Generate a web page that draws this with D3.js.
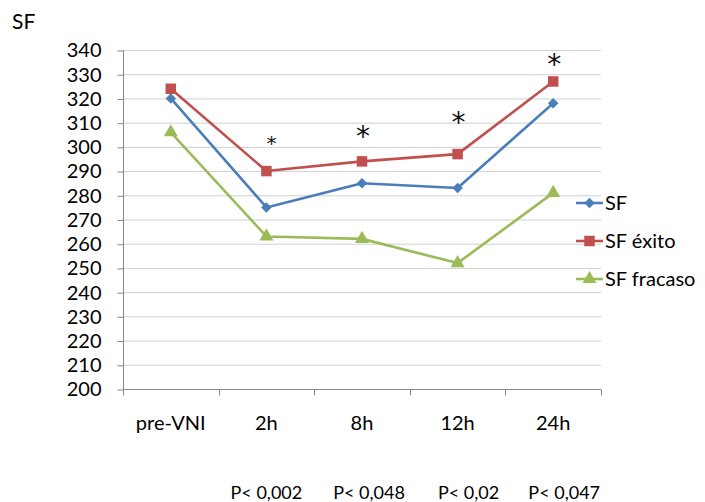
<!DOCTYPE html>
<html>
<head>
<meta charset="utf-8">
<script src="https://cdn.jsdelivr.net/npm/d3@7"></script>
<style>
  html, body { margin: 0; padding: 0; background: #fff; }
  svg { display: block; font-family: Lato, "Open Sans", sans-serif; }
</style>
</head>
<body>
<svg id="chart" width="705" height="502"></svg>
<script>
// Time points and SF values per group
const categories = ["pre-VNI", "2h", "8h", "12h", "24h"];
const sfTotal   = [320, 275, 285, 283, 318];
const sfExito   = [324, 290, 294, 297, 327];
const sfFracaso = [306, 263, 262, 252, 281];
const yTicks = [200, 210, 220, 230, 240, 250, 260, 270, 280, 290, 300, 310, 320, 330, 340];
// Significance marks: level (in SF units) where each asterisk sits
const starCats   = ["2h", "8h", "12h", "24h"];
const starLevels = [304, 308, 314, 338];
const pValues    = ["P< 0,002", "P< 0,048", "P< 0,02", "P< 0,047"];

const series = [
  { name: "SF",         values: sfTotal,   color: "#4A7EBB", marker: "diamond" },
  { name: "SF éxito",   values: sfExito,   color: "#C0504D", marker: "square" },
  { name: "SF fracaso", values: sfFracaso, color: "#9BBB59", marker: "triangle" }
];

const svg = d3.select("#chart");
const plot = { left: 123, right: 601, top: 50, bottom: 389 };

const x = d3.scaleBand().domain(categories).range([plot.left, plot.right]);
const y = d3.scaleLinear().domain([200, 340]).range([plot.bottom, plot.top]);
const cx = c => x(c) + x.bandwidth() / 2;

// Horizontal gridlines
svg.append("g")
  .selectAll("line")
  .data(yTicks.filter(t => t !== 200))
  .join("line")
  .attr("x1", plot.left).attr("x2", plot.right)
  .attr("y1", d => y(d) + 0.5).attr("y2", d => y(d) + 0.5)
  .attr("stroke", "#D0D0D0").attr("stroke-width", 1);

// Y axis
const yAxis = svg.append("g")
  .attr("transform", `translate(${plot.left + 0.5},0.5)`)
  .call(d3.axisLeft(y).tickValues(yTicks).tickSize(6).tickPadding(16));
yAxis.select(".domain").attr("stroke", "#878787").attr("d", `M0,${plot.top}V${plot.bottom + 5}`);
yAxis.selectAll(".tick line").attr("stroke", "#878787");
yAxis.selectAll(".tick text")
  .attr("fill", "#000").attr("font-size", 20).attr("font-family", "Lato, sans-serif");

// X axis: baseline with tick marks at category boundaries
const xAxis = svg.append("g").attr("transform", `translate(0,${plot.bottom + 0.5})`);
xAxis.append("line")
  .attr("x1", plot.left).attr("x2", plot.right)
  .attr("stroke", "#878787");
const boundaries = categories.map(c => x(c)).concat([x(categories[categories.length - 1]) + x.bandwidth()]);
xAxis.selectAll("line.tk")
  .data(boundaries)
  .join("line").attr("class", "tk")
  .attr("x1", d => Math.round(d) + 0.5).attr("x2", d => Math.round(d) + 0.5)
  .attr("y1", 0).attr("y2", 6)
  .attr("stroke", "#878787");
xAxis.selectAll("text")
  .data(categories)
  .join("text")
  .attr("x", d => cx(d)).attr("y", 40)
  .attr("text-anchor", "middle")
  .attr("font-size", 20)
  .attr("fill", "#000")
  .text(d => d);

// Series lines
const line = d3.line().x((d, i) => cx(categories[i])).y(d => y(d));
svg.append("g")
  .selectAll("path")
  .data(series)
  .join("path")
  .attr("d", s => line(s.values))
  .attr("fill", "none")
  .attr("stroke", s => s.color)
  .attr("stroke-width", 2.6)
  .attr("stroke-linejoin", "round");

// Marker shapes
const symbols = {
  diamond:  d3.symbol().type(d3.symbolDiamond2).size(70),
  square:   d3.symbol().type(d3.symbolSquare).size(110),
  triangle: d3.symbol().type(d3.symbolTriangle).size(85)
};
series.forEach(s => {
  svg.append("g")
    .selectAll("path")
    .data(s.values)
    .join("path")
    .attr("transform", (d, i) => `translate(${cx(categories[i])},${y(d)})`)
    .attr("d", symbols[s.marker]())
    .attr("fill", s.color);
});

// Significance asterisks
svg.append("g")
  .selectAll("text")
  .data(starCats)
  .join("text")
  .attr("x", (d, i) => cx(d) + (i === 0 ? 5 : 1))
  .attr("y", (d, i) => y(starLevels[i]) + (i === 0 ? 13 : 19))
  .attr("text-anchor", "middle")
  .attr("font-family", "'DejaVu Sans', sans-serif")
  .attr("font-size", (d, i) => i === 0 ? 20 : 28)
  .attr("fill", "#111")
  .text("*");

// P-values under each time point
svg.append("g")
  .selectAll("text")
  .data(pValues)
  .join("text")
  .attr("x", (d, i) => cx(starCats[i]) + [0, 7, 11, 11][i])
  .attr("y", 499)
  .attr("text-anchor", "middle")
  .attr("font-size", 18)
  .attr("fill", "#000")
  .text(d => d);

// Axis title
svg.append("text")
  .attr("x", 12).attr("y", 29)
  .attr("font-size", 21)
  .attr("fill", "#000")
  .text("SF");

// Legend
const legend = svg.append("g")
  .selectAll("g")
  .data(series)
  .join("g")
  .attr("transform", (d, i) => `translate(576,${[203, 241, 279][i]})`);
legend.append("line")
  .attr("x1", 0).attr("x2", 27)
  .attr("stroke", d => d.color).attr("stroke-width", 2.6);
legend.append("path")
  .attr("transform", "translate(13.5,0)")
  .attr("d", d => symbols[d.marker]())
  .attr("fill", d => d.color);
legend.append("text")
  .attr("x", 29).attr("y", 7)
  .attr("font-size", 20)
  .attr("fill", "#000")
  .text(d => d.name);
</script>
</body>
</html>
